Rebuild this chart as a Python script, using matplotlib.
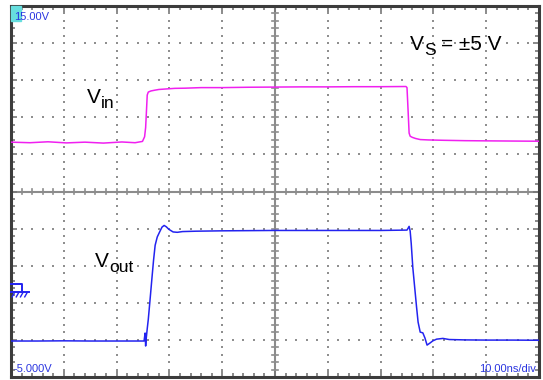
import matplotlib.pyplot as plt
import numpy as np

plt.rcParams['font.family'] = ['Liberation Sans', 'DejaVu Sans']

# screen scale: 10 ns/div horizontally, 2 V/div vertically
t_min, t_max = 0, 100
v_min, v_max = -5, 15

# input step (ns, V on screen)
vin_t = [0, 3.6, 7.0, 10.5, 14.0, 17.5, 21.0, 23.5, 24.9, 25.3, 25.5, 25.7, 25.8, 26.0,
         26.5, 27.2, 28.0, 29.5, 31.0, 33.0, 36.0, 40.0, 45.0, 50.0, 55.0, 60.0, 65.0,
         70.0, 74.8, 75.0, 75.2, 75.4, 75.6, 76.0, 76.6, 77.5, 79.0, 82.0, 86.0, 90.0,
         95.0, 100.0]
vin_v = [7.66, 7.63, 7.68, 7.62, 7.66, 7.61, 7.67, 7.63, 7.70, 7.95, 8.45, 9.60, 10.20, 10.36,
         10.42, 10.46, 10.50, 10.53, 10.56, 10.57, 10.60, 10.60, 10.62, 10.63, 10.64, 10.64, 10.65,
         10.65, 10.66, 10.60, 9.40, 8.15, 7.98, 7.92, 7.86, 7.80, 7.78, 7.76, 7.74, 7.73,
         7.72, 7.71]

# output response
vout_t = [0, 5.0, 10.0, 15.0, 20.0, 25.2, 25.4, 25.5, 25.6, 25.8, 26.0, 26.3, 26.7, 27.0,
          27.3, 27.7, 28.2, 28.6, 29.0, 29.4, 29.9, 30.7, 31.5, 32.5, 35.0, 40.0, 45.0,
          50.0, 55.0, 60.0, 65.0, 70.0, 75.0, 75.4, 75.6, 75.8, 76.1, 76.5, 76.8, 77.1,
          77.5, 78.0, 78.4, 78.8, 79.3, 79.9, 80.6, 81.2, 81.8, 83.0, 86.0, 90.0, 95.0, 100.0]
vout_v = [-3.06, -3.06, -3.05, -3.06, -3.06, -3.06, -2.63, -3.33, -2.95, -2.40, -1.90, -0.95, 0.35, 1.30,
          2.10, 2.55, 2.85, 3.08, 3.17, 3.10, 2.96, 2.82, 2.80, 2.84, 2.86, 2.88, 2.89,
          2.90, 2.90, 2.90, 2.90, 2.90, 2.92, 3.12, 2.86, 2.20, 0.90, -0.30, -1.20, -2.04,
          -2.58, -2.62, -2.90, -3.28, -3.18, -3.05, -2.96, -2.94, -2.92, -2.98, -3.00, -3.01, -3.01, -3.02]

fig = plt.figure(figsize=(5.43, 3.80), dpi=100)
W, H = 543, 380
ax = fig.add_axes([11 / W, (H - 377) / H, 528 / W, 371 / H])
ax.set_xlim(t_min, t_max)
ax.set_ylim(v_min, v_max)

# dotted graticule
xs_minor = np.arange(t_min, t_max + 0.01, 2)
ys_minor = np.arange(v_min, v_max + 0.01, 0.4)
grid_c = '#8f8f8f'
for gx in range(10, 100, 10):
    if gx == 50:
        continue
    ax.scatter(np.full(len(ys_minor), gx), ys_minor, s=1.5, marker='s', color=grid_c, lw=0, zorder=1)
for gy in range(-3, 15, 2):
    if gy == 5:
        continue
    ax.scatter(xs_minor, np.full(len(xs_minor), gy), s=1.5, marker='s', color=grid_c, lw=0, zorder=1)

# centre cross with small ticks
ax.axvline(50, color='#8c8c8c', lw=1.5, zorder=1)
ax.axhline(5, color='#8c8c8c', lw=1.5, zorder=1)
for x in xs_minor:
    ax.plot([x, x], [4.88, 5.12], color='#8c8c8c', lw=1.2, zorder=1)
for y in ys_minor:
    ax.plot([49.45, 50.55], [y, y], color='#8c8c8c', lw=1.2, zorder=1)

# frame ticks
ax.set_xticks(np.arange(0, 101, 10))
ax.set_yticks(np.arange(-5, 16, 2))
ax.set_xticks(xs_minor, minor=True)
ax.set_yticks(ys_minor, minor=True)
ax.tick_params(which='both', direction='in', top=True, right=True,
               labelbottom=False, labelleft=False, color='#777777', width=1.2)
ax.tick_params(which='major', length=4.5)
ax.tick_params(which='minor', length=3)
for sp in ax.spines.values():
    sp.set_color('#3c3c3c')
    sp.set_linewidth(2.2)

# traces
ax.plot(vin_t, vin_v, color='#f020f0', lw=1.1, zorder=3)
ax.plot(vout_t, vout_v, color='#2323f0', lw=1.1, zorder=3)

# ground reference marker
gc = '#2323f0'
ax.plot([0, 2.1, 2.1], [0.0, 0.0, -0.43], color=gc, lw=1.4, clip_on=False, zorder=4)
ax.plot([0, 3.4], [-0.43, -0.43], color=gc, lw=1.4, clip_on=False, zorder=4)
for hx in [0.7, 1.5, 2.3, 3.1]:
    ax.plot([hx, hx - 0.5], [-0.43, -0.68], color=gc, lw=1.0, clip_on=False, zorder=4)

# scope readouts
fig.patches.append(plt.Rectangle((11 / W, 1 - 21 / H), 10 / W, 15 / H,
                                 transform=fig.transFigure, color='#66dede', zorder=0))
blue = '#2b36e0'
fig.text(14 / W, 1 - 20.5 / H, '15.00V', color=blue, fontsize=8, va='baseline')
fig.text(13 / W, 1 - 372.5 / H, '-5.000V', color=blue, fontsize=8, va='baseline')
fig.text(536 / W, 1 - 372.5 / H, '10.00ns/div', color=blue, fontsize=8, va='baseline', ha='right')

# trace labels, subscripts drawn as their own text
def label(x, y, main, sub, rest=''):
    fig.text(x / W, 1 - y / H, main, fontsize=15, va='baseline')
    fig.text((x + 14) / W, 1 - (y + 5) / H, sub, fontsize=12.5, va='baseline')
    if rest:
        fig.text((x + 31) / W, 1 - y / H, rest, fontsize=15, va='baseline')

label(87, 103, 'V', 'in')
label(95, 267, 'V', 'out')
label(410, 50, 'V', 'S', '= ±5 V')

fig.savefig('out.png', dpi=100)
